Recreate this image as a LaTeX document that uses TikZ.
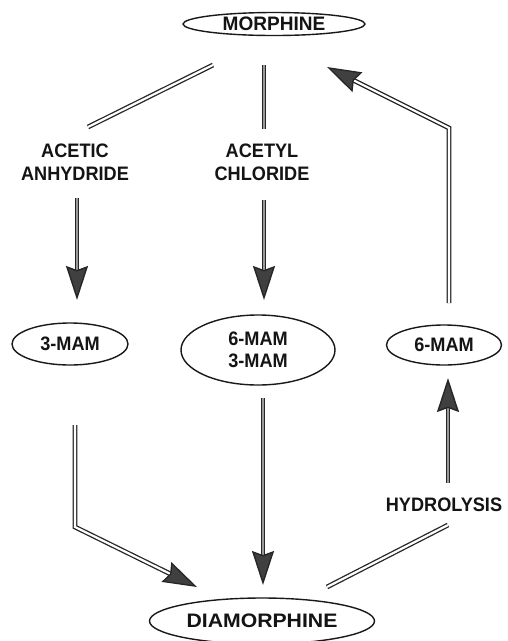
\documentclass[tikz,border=0pt]{standalone}
\usepackage{fontspec}
\setmainfont[FakeStretch=0.93]{Liberation Sans}
\usetikzlibrary{arrows.meta,shapes.geometric}
\begin{document}
\begin{tikzpicture}[x=1pt,y=-1pt,
  lbl/.style={font=\fontsize{19.5}{23}\selectfont\bfseries, align=center, inner sep=0pt, text=black!92},
  oval/.style={ellipse, draw=black!90, line width=1.4pt, inner sep=0pt, lbl},
  pipe/.style={draw=black!85, line width=1.4pt, double=black!40, double distance=1.3pt},
  hollow/.style={draw=black!85, line width=1.3pt, double=white, double distance=2.2pt, line join=miter},
  tip/.style={-{Stealth[length=34pt,width=22pt,inset=4pt,fill=black!75]}}
]
\useasboundingbox (0,0) rectangle (508,641);
\fill[white] (0,0) rectangle (508,641);

% nodes
\node[oval, minimum width=182pt, minimum height=23pt] (morph) at (274,24) {\scalebox{1.05}[1]{MORPHINE}};
\node[lbl] (acan) at (75,162) {ACETIC\\ANHYDRIDE};
\node[lbl] (acch) at (262,162) {ACETYL\\CHLORIDE};
\node[oval, minimum width=116pt, minimum height=42pt] (mam3) at (70,344) {3-MAM};
\node[oval, minimum width=154pt, minimum height=70pt, font=\fontsize{19.5}{21.5}\selectfont\bfseries] (mix) at (258,350) {6-MAM\\3-MAM};
\node[oval, minimum width=115pt, minimum height=40pt] (mam6) at (444,345) {6-MAM};
\node[lbl] (hyd) at (444,505) {HYDROLYSIS};
\node[oval, minimum width=225pt, minimum height=46pt] (dia) at (262,621) {\scalebox{1.17}[1]{DIAMORPHINE}};

% connector ends
\coordinate (m-l) at (213,65);
\coordinate (an-t) at (88,127);
\coordinate (m-c) at (264,65);
\coordinate (ch-t) at (264,129);
\coordinate (an-b) at (77,198);
\coordinate (m3-t) at (77,300);
\coordinate (ch-b) at (264,200);
\coordinate (mx-t) at (264,300);
\coordinate (m6-t) at (449,303);
\coordinate (r-bend) at (449,128);
\coordinate (m-r) at (327,67);
\coordinate (m3-b) at (75,425);
\coordinate (l-bend) at (75,527);
\coordinate (d-l) at (197,587);
\coordinate (mx-b) at (263,398);
\coordinate (d-c) at (263,585);
\coordinate (hy-t) at (448,483);
\coordinate (m6-b) at (448,378);
\coordinate (hy-b) at (448,525);
\coordinate (d-r) at (327,587);

% connectors
\draw[hollow] (m-l) -- (an-t);
\draw[pipe] (m-c) -- (ch-t);
\draw[pipe,tip] (an-b) -- (m3-t);
\draw[pipe,tip] (ch-b) -- (mx-t);
\draw[hollow,tip] (m6-t) -- (r-bend) -- (m-r);
\draw[hollow,tip] (m3-b) -- (l-bend) -- (d-l);
\draw[pipe,tip] (mx-b) -- (d-c);
\draw[pipe,tip] (hy-t) -- (m6-b);
\draw[hollow] (hy-b) -- (d-r);
\end{tikzpicture}
\end{document}
